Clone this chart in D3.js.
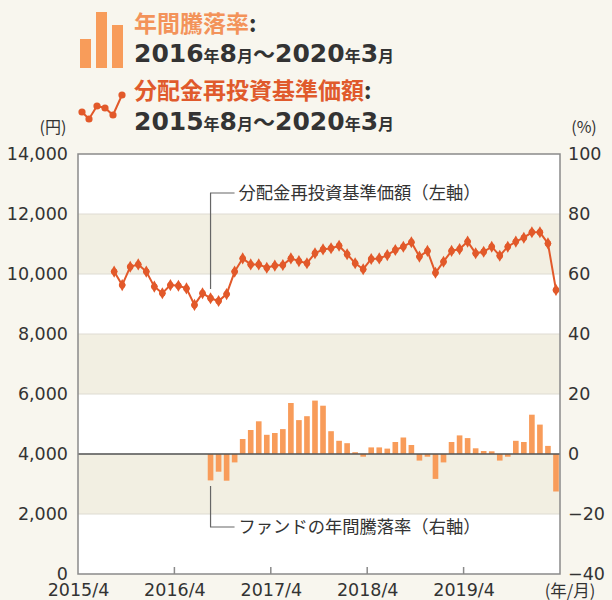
<!DOCTYPE html>
<html><head><meta charset="utf-8">
<script src="https://cdn.jsdelivr.net/npm/d3@7"></script>
<style>
html,body{margin:0;padding:0;background:#f8f6ee;}
svg{display:block;font-family:"Noto Sans CJK JP","Noto Sans",sans-serif;}
</style></head>
<body><svg id="c" width="612" height="600"></svg>
<script>
// ---- data ----
const navStart = [2015, 8];   // first month of NAV series
const navValues = [10080, 9630, 10240, 10320, 10080, 9580, 9360, 9630, 9610, 9520,
  8970, 9360, 9190, 9100, 9330, 10080, 10520, 10320, 10320, 10210,
  10280, 10300, 10520, 10430, 10360, 10690, 10820, 10860, 10940, 10660,
  10360, 10160, 10500, 10520, 10630, 10800, 10910, 11060, 10580, 10770,
  10040, 10410, 10770, 10830, 11080, 10690, 10740, 10910, 10610, 10910,
  11080, 11210, 11390, 11390, 11020, 9470];
const retStart = [2016, 8];   // first month of annual return series
const retValues = [-8.8, -5.9, -8.9, -2.8, 5.0, 8.0, 10.9, 6.4, 7.0, 8.3,
  17.0, 11.3, 12.6, 17.8, 16.1, 7.6, 4.4, 3.6, 0.6, -0.9,
  2.2, 2.2, 1.8, 4.0, 5.5, 3.0, -2.2, -0.9, -8.3, -2.8,
  4.0, 6.2, 5.3, 1.9, 1.0, 0.9, -2.2, -0.9, 4.4, 4.0,
  13.1, 9.8, 2.7, -12.5];
const endMonth = [2020, 3];
const leftTicks = [0, 2000, 4000, 6000, 8000, 10000, 12000, 14000];
const rightTicks = [-40, -20, 0, 20, 40, 60, 80, 100];
const xTickLabels = ["2015/4", "2016/4", "2017/4", "2018/4", "2019/4"];
const xUnit = "(年/月)";
const leftUnit = "(円)";
const rightUnit = "(%)";
const navName = "分配金再投資基準価額";
const retName = "年間騰落率";
const navNote = "分配金再投資基準価額（左軸）";
const retNote = "ファンドの年間騰落率（右軸）";

// ---- helpers ----
const origin = [2015, 4];
const monthIndex = (y, m) => (y - origin[0]) * 12 + (m - origin[1]);
const navData = navValues.map((v, i) => ({ idx: monthIndex(navStart[0], navStart[1]) + i, v }));
const retData = retValues.map((v, i) => ({ idx: monthIndex(retStart[0], retStart[1]) + i, v }));

const svg = d3.select("#c");
const L = 78, R = 560, T = 154, B = 574;
const x = d3.scaleLinear().domain([0, 60]).range([L, R]);
const yL = d3.scaleLinear().domain([0, 14000]).range([B, T]);
const yR = d3.scaleLinear().domain([-40, 100]).range([B, T]);
const barColor = "#f89c5a", lineColor = "#e2592a", textColor = "#333";
const numFont = "'DejaVu Sans',sans-serif";

// background bands
const bands = d3.pairs(leftTicks);
svg.append("g").selectAll("rect").data(bands).join("rect")
  .attr("x", L).attr("width", R - L)
  .attr("y", d => yL(d[1])).attr("height", d => yL(d[0]) - yL(d[1]))
  .attr("fill", (d, i) => i % 2 === 1 ? "#f2efe2" : "#ffffff");
svg.append("g").selectAll("line").data(leftTicks.slice(1, -1)).join("line")
  .attr("x1", L).attr("x2", R).attr("y1", d => yL(d)).attr("y2", d => yL(d))
  .attr("stroke", "#dedbd2").attr("stroke-width", 1);

// bars
const bw = (x(1) - x(0)) * 0.7;
svg.append("g").selectAll("rect").data(retData).join("rect")
  .attr("x", d => x(d.idx + 0.5) - bw / 2).attr("width", bw)
  .attr("y", d => yR(Math.max(0, d.v))).attr("height", d => Math.abs(yR(d.v) - yR(0)))
  .attr("fill", barColor);

// zero line
svg.append("line").attr("x1", L).attr("x2", R).attr("y1", yR(0)).attr("y2", yR(0))
  .attr("stroke", "#555").attr("stroke-width", 1.3);

// annotation leaders
const ax = x(16.5);
function note(yBot, yText, text) {
  svg.append("path").attr("d", `M${ax},${yBot}V${yText}H${ax + 24}`)
    .attr("fill", "none").attr("stroke", "#666").attr("stroke-width", 1.2);
  svg.append("text").attr("x", ax + 28).attr("y", yText).attr("dy", "0.35em")
    .attr("font-size", 17.3).attr("fill", textColor).text(text);
}
note(289, 193, navNote);
note(486, 527, retNote);

// line
const line = d3.line().x(d => x(d.idx + 0.5)).y(d => yL(d.v));
svg.append("path").datum(navData).attr("d", line)
  .attr("fill", "none").attr("stroke", lineColor).attr("stroke-width", 2);
svg.append("g").selectAll("path").data(navData).join("path")
  .attr("transform", d => `translate(${x(d.idx + 0.5)},${yL(d.v)})`)
  .attr("d", d3.symbol(d3.symbolDiamond, 42)).attr("fill", lineColor);
svg.append("g").selectAll("circle").data(navData).join("circle")
  .attr("cx", d => x(d.idx + 0.5)).attr("cy", d => yL(d.v)).attr("r", 3.2).attr("fill", lineColor);

// frame
svg.append("rect").attr("x", L).attr("y", T).attr("width", R - L).attr("height", B - T)
  .attr("fill", "none").attr("stroke", "#8a8a8a").attr("stroke-width", 1.5);

// axes
const gl = svg.append("g").attr("transform", `translate(${L},0)`)
  .call(d3.axisLeft(yL).tickValues(leftTicks).tickSize(0).tickPadding(10).tickFormat(d3.format(",")));
const gr = svg.append("g").attr("transform", `translate(${R},0)`)
  .call(d3.axisRight(yR).tickValues(rightTicks).tickSize(0).tickPadding(8).tickFormat(d => d < 0 ? "−" + Math.abs(d) : d));
const xTickIdx = xTickLabels.map(s => { const [yy, mm] = s.split("/").map(Number); return monthIndex(yy, mm); });
const gb = svg.append("g").attr("transform", `translate(0,${B})`)
  .call(d3.axisBottom(x).tickValues(xTickIdx).tickSize(0).tickPadding(10).tickFormat((d, i) => xTickLabels[i]));
[gl, gr, gb].forEach(g => {
  g.select(".domain").remove();
  g.selectAll("text").attr("font-size", 17.5).attr("fill", textColor).attr("font-family", numFont);
});
// inner small ticks on bottom
svg.append("g").selectAll("line").data(xTickIdx.slice(1)).join("line")
  .attr("x1", d => x(d)).attr("x2", d => x(d)).attr("y1", B).attr("y2", B - 7)
  .attr("stroke", "#8a8a8a").attr("stroke-width", 1.5);

svg.append("text").attr("x", 570).attr("y", 597).attr("text-anchor", "middle")
  .attr("font-size", 16.5).attr("fill", textColor).text(xUnit);
svg.append("text").attr("x", 53).attr("y", 133).attr("text-anchor", "middle")
  .attr("font-size", 16).attr("fill", textColor).text(leftUnit);
svg.append("text").attr("x", 584).attr("y", 133).attr("text-anchor", "middle")
  .attr("font-size", 16).attr("fill", textColor).text(rightUnit);

// ---- legend ----
const lg = svg.append("g");
const iconBars = [29, 56, 43];
lg.selectAll("rect").data(iconBars).join("rect")
  .attr("x", (d, i) => 80 + i * 16).attr("width", 11)
  .attr("y", d => 68 - d).attr("height", d => d).attr("fill", barColor);
const iconPts = [[82, 112], [89, 119], [97, 106], [105, 108], [113, 115], [122, 95]];
lg.append("path").attr("d", d3.line()(iconPts)).attr("fill", "none").attr("stroke", lineColor).attr("stroke-width", 2);
lg.selectAll("circle").data(iconPts).join("circle").attr("cx", d => d[0]).attr("cy", d => d[1]).attr("r", 3.6).attr("fill", lineColor);

function legendTitle(yb, name, color) {
  const t = lg.append("text").attr("x", 134).attr("y", yb).attr("font-size", 23).attr("font-weight", 700);
  t.append("tspan").attr("fill", color).text(name);
  t.append("tspan").attr("fill", textColor).text(":");
}
function legendPeriod(yb, a, b) {
  const t = lg.append("text").attr("x", 134).attr("y", yb).attr("font-weight", 700).attr("fill", textColor);
  const big = 25, small = 16;
  const parts = [[a[0], big, numFont], ["年", small], [a[1], big, numFont], ["月", small], ["～", 22],
                 [b[0], big, numFont], ["年", small], [b[1], big, numFont], ["月", small]];
  parts.forEach(p => {
    const s = t.append("tspan").attr("font-size", p[1]).text(p[0]);
    if (p[2]) s.attr("font-family", p[2]);
  });
}
legendTitle(32, retName, "#f3935a");
legendPeriod(62, [String(retStart[0]), String(retStart[1])], endMonth.map(String));
legendTitle(99, navName, "#e05a2c");
legendPeriod(130, [String(navStart[0]), String(navStart[1])], endMonth.map(String));
</script></body></html>
